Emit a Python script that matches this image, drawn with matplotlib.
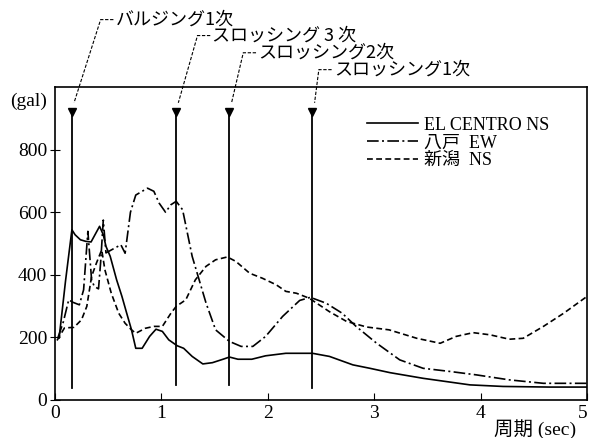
import numpy as np
import matplotlib.pyplot as plt

# 加速度応答スペクトル (gal) と固有周期

# EL CENTRO NS
t_elc = [0.04, 0.10, 0.16, 0.19, 0.24, 0.29, 0.34, 0.38, 0.42, 0.455, 0.48, 0.52,
         0.58, 0.63, 0.675, 0.72, 0.76, 0.82, 0.89, 0.95, 1.01, 1.07, 1.15, 1.21,
         1.29, 1.39, 1.48, 1.58, 1.64, 1.72, 1.85, 1.98, 2.17, 2.42, 2.58, 2.80,
         2.96, 3.15, 3.46, 3.90, 4.21, 4.65, 5.0]
a_elc = [198, 380, 544, 528, 512, 507, 505, 530, 555, 528, 491, 459,
         384, 331, 277, 224, 165, 165, 203, 226, 219, 192, 173, 165,
         139, 115, 119, 130, 137, 130, 130, 141, 149, 149, 139, 112,
         101, 87, 69, 48, 43, 41, 41]

# 八戸 EW
t_hac = [0.03, 0.08, 0.13, 0.17, 0.23, 0.27, 0.31, 0.345, 0.37, 0.41, 0.43, 0.455,
         0.48, 0.56, 0.62, 0.66, 0.71, 0.76, 0.87, 0.93, 0.98, 1.04, 1.09, 1.14,
         1.20, 1.29, 1.42, 1.51, 1.64, 1.75, 1.86, 1.98, 2.14, 2.30, 2.40, 2.55,
         2.70, 2.83, 3.02, 3.24, 3.46, 3.71, 3.96, 4.27, 4.59, 5.0]
a_hac = [200, 250, 320, 312, 304, 352, 539, 384, 363, 355, 440, 575,
         470, 485, 496, 469, 600, 655, 677, 667, 629, 600, 624, 635,
         608, 459, 310, 224, 187, 171, 171, 203, 267, 318, 328, 309,
         277, 235, 182, 128, 101, 91, 80, 64, 53, 53]

# 新潟 NS
t_nii = [0.02, 0.09, 0.18, 0.25, 0.30, 0.345, 0.39, 0.44, 0.47, 0.53, 0.60, 0.66,
         0.72, 0.76, 0.85, 0.93, 1.01, 1.09, 1.14, 1.23, 1.32, 1.42, 1.51, 1.62,
         1.70, 1.83, 1.95, 2.08, 2.17, 2.27, 2.39, 2.58, 2.74, 2.93, 3.14, 3.40,
         3.62, 3.77, 3.93, 4.09, 4.27, 4.40, 4.59, 4.78, 5.0]
a_nii = [190, 230, 232, 256, 299, 395, 437, 480, 416, 341, 277, 245,
         224, 213, 229, 235, 235, 277, 299, 320, 384, 427, 448, 457,
         443, 405, 389, 368, 347, 341, 325, 282, 251, 233, 224, 197,
         181, 203, 215, 208, 194, 197, 235, 277, 331]

# タンクの固有周期
modes = ["バルジング1次", "スロッシング 3 次", "スロッシング2次", "スロッシング1次"]
periods = [0.16, 1.14, 1.64, 2.42]
mode_bottom = [38, 48, 48, 38]
mode_top = 922

# 注記の位置 (テキスト左端, 高さ)
label_x = [0.57, 1.48, 1.91, 2.62]
label_y = [1216, 1165, 1110, 1056]

latin = ["Liberation Serif", "Noto Sans CJK JP"]
plt.rcParams["font.family"] = latin

fig = plt.figure(figsize=(5.9, 4.38), dpi=100)
ax = fig.add_axes([0.093, 0.087, 0.902, 0.714])

ax.plot(t_elc, a_elc, color="black", lw=1.2, label="EL CENTRO NS")
ax.plot(t_hac, a_hac, color="black", lw=1.2, dashes=(7, 2, 1.2, 2), label="八戸  EW")
ax.plot(t_nii, a_nii, color="black", lw=1.2, dashes=(3.5, 2), label="新潟  NS")

for name, p, yb, lx, ly in zip(modes, periods, mode_bottom, label_x, label_y):
    ax.plot([p, p], [yb, mode_top], color="black", lw=1.3)
    ax.plot(p, mode_top, marker="v", color="black", ms=5.5)
    # 引出し線
    ax.plot([lx - 0.02, lx - 0.14, p + 0.02], [ly, ly, 950], color="black",
            lw=0.8, dashes=(3, 1.5), clip_on=False)
    ax.text(lx, ly, name, fontsize=13, va="center", ha="left",
            family=["Noto Sans CJK JP"], clip_on=False)

ax.set_xlim(0, 5)
ax.set_ylim(0, 1000)
ax.set_xticks([0, 1, 2, 3, 4, 5])
ax.set_yticks([0, 200, 400, 600, 800])
ax.tick_params(axis="x", direction="in", length=5, labelsize=14, pad=4)
ax.tick_params(axis="y", direction="inout", length=7, labelsize=14, pad=2)
ax.get_xticklabels()[-1].set_horizontalalignment("right")
for s in ax.spines.values():
    s.set_linewidth(1.2)

ax.text(-0.25, 955, "(gal)", fontsize=14, ha="center", va="center", clip_on=False)
ax.text(4.9, -92, "周期 (sec)", fontsize=14, ha="right", va="center", clip_on=False)

leg = ax.legend(loc="upper left", bbox_to_anchor=(0.57, 0.935), frameon=False,
                fontsize=13, handlelength=2.8, handletextpad=0.35,
                labelspacing=0.05, borderpad=0)

fig.savefig("out.png", dpi=100)
